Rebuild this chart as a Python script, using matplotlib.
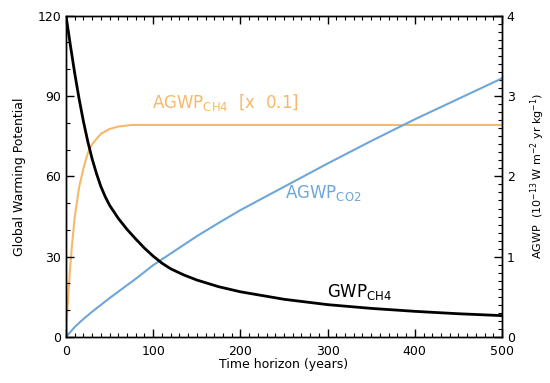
import numpy as np
import matplotlib
matplotlib.use("Agg")
import matplotlib.pyplot as plt
from matplotlib.ticker import MultipleLocator

plt.rcParams.update({"font.family": "DejaVu Sans", "font.size": 9,
    "axes.linewidth": 1.0, "xtick.direction": "in", "ytick.direction": "in"})

ORANGE = "#f6b96b"
BLUE = "#6fa6d8"

# GWP of CH4 (left axis)
gwp_years = [0, 5, 10, 15, 20, 25, 30, 35, 40, 45, 50, 60, 70, 80, 90, 100, 110,
             120, 135, 150, 175, 200, 250, 300, 350, 400, 450, 500]
gwp_ch4 = [120, 109, 98.5, 89, 80.5, 73, 66.5, 61, 56.2, 52.4, 49.2, 44.3, 40.2, 36.6,
           33.2, 30.2, 27.6, 25.5, 23.2, 21.3, 18.8, 16.9, 14.1, 12.1, 10.7, 9.6, 8.7, 8.0]

# AGWP of CO2 (right axis, 1e-13 W m-2 yr kg-1)
co2_years = [0, 10, 20, 30, 40, 50, 60, 70, 80, 90, 100, 125, 150, 175, 200,
             250, 300, 350, 400, 450, 500]
agwp_co2 = [0, 0.125, 0.225, 0.315, 0.40, 0.485, 0.565, 0.645, 0.725, 0.81, 0.895,
            1.075, 1.255, 1.42, 1.58, 1.87, 2.16, 2.44, 2.71, 2.965, 3.22]

# AGWP of CH4 x 0.1 (right axis)
ch4_years = [0, 1, 2, 3, 5, 7, 10, 15, 20, 25, 30, 40, 50, 60, 75, 100, 200, 300, 400, 500]
agwp_ch4 = [0, 0.21, 0.40, 0.58, 0.90, 1.16, 1.49, 1.86, 2.10, 2.29, 2.40, 2.53,
            2.59, 2.62, 2.64, 2.64, 2.64, 2.64, 2.64, 2.64]

fig = plt.figure(figsize=(5.5, 3.83), dpi=100)
ax = fig.add_axes([0.12, 0.12, 0.7927, 0.839])
ax2 = ax.twinx()

ax2.plot(ch4_years, agwp_ch4, color=ORANGE, lw=1.5)
ax2.plot(co2_years, agwp_co2, color=BLUE, lw=1.5)
ax.plot(gwp_years, gwp_ch4, color="black", lw=2.0, zorder=5)
ax.set_zorder(ax2.get_zorder() + 1); ax.patch.set_visible(False)

ax.set_xlim(0, 500); ax.set_ylim(0, 120)
ax2.set_ylim(0, 4)
ax.xaxis.set_major_locator(MultipleLocator(100)); ax.xaxis.set_minor_locator(MultipleLocator(10))
ax.yaxis.set_major_locator(MultipleLocator(30)); ax.yaxis.set_minor_locator(MultipleLocator(10))
ax2.yaxis.set_major_locator(MultipleLocator(1)); ax2.yaxis.set_minor_locator(MultipleLocator(0.1))
ax.tick_params(which="both", top=True, right=False)
ax.tick_params(axis="x", which="major", pad=6)
ax.tick_params(which="major", length=6, width=1.0)
ax.tick_params(which="minor", length=3, width=0.8)
ax2.tick_params(which="major", length=6, width=1.0)
ax2.tick_params(which="minor", length=3, width=0.8)

ax.set_xlabel("Time horizon (years)", labelpad=0)
ax.set_ylabel("Global Warming Potential", labelpad=8)
ax2.set_ylabel("AGWP  (10$^{-13}$ W m$^{-2}$ yr kg$^{-1}$)", fontsize=8, labelpad=10)

ax.text(99, 87.5, r"AGWP$_{\mathregular{CH4}}$  [x  0.1]", color=ORANGE, fontsize=12, va="center")
ax.text(251, 53.8, r"AGWP$_{\mathregular{CO2}}$", color=BLUE, fontsize=12, va="center")
ax.text(299, 16.8, r"GWP$_{\mathregular{CH4}}$", color="black", fontsize=12, va="center")

fig.savefig("out.png", dpi=100)
